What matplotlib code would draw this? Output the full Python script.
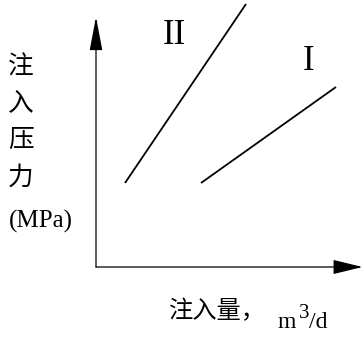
import matplotlib
matplotlib.use("Agg")
import matplotlib.pyplot as plt

# Schematic data (arbitrary units, origin at axis corner)
series_names = ["II", "I"]
line_II_x = [29, 150]
line_II_y = [84, 263]
line_I_x = [105, 240]
line_I_y = [84, 180]

y_label_chars = ["注", "入", "压", "力"]
y_label_unit = "(MPa)"
x_label_text = "注入量，"

serif = ["Liberation Serif", "DejaVu Serif"]
cjk = ["Noto Sans CJK SC", "DejaVu Sans"]

fig = plt.figure(figsize=(3.63, 3.37), dpi=100)
ax = fig.add_axes([0, 0, 1, 1])
ax.set_xlim(-96, 267)
ax.set_ylim(-70, 267)
ax.axis("off")

# axes with arrows
ax.annotate("", xy=(0, 250), xytext=(0, 0),
            arrowprops=dict(arrowstyle="-|>,head_length=2.1,head_width=0.4",
                            mutation_scale=10, lw=0.9, color="black",
                            shrinkA=0, shrinkB=0))
ax.annotate("", xy=(266.5, 0), xytext=(0, 0),
            arrowprops=dict(arrowstyle="-|>,head_length=1.85,head_width=0.45",
                            mutation_scale=10, lw=0.9, color="black",
                            shrinkA=0, shrinkB=0))

ax.plot(line_II_x, line_II_y, color="black", lw=1.3, solid_capstyle="butt")
ax.plot(line_I_x, line_I_y, color="black", lw=1.3, solid_capstyle="butt")

ax.text(78, 232, series_names[0], family=serif, fontsize=25, ha="center", va="center")
ax.text(213, 206, series_names[1], family=serif, fontsize=25, ha="center", va="center")

# y label (vertical stack)
ys = [199, 164, 127, 89]
for ch, yy in zip(y_label_chars, ys):
    ax.text(-75, yy, ch, family=cjk, fontsize=18.5, ha="center", va="center")
ax.text(-55, 46, y_label_unit, family=serif, fontsize=18, ha="center", va="center")

# x label
ax.text(121, -44, x_label_text, family=cjk, fontsize=17.5, ha="center", va="center")
ax.text(182, -61, "m", family=serif, fontsize=17, ha="left", va="baseline")
ax.text(203, -51, "3", family=serif, fontsize=15, ha="left", va="baseline")
ax.text(213, -61, "/d", family=serif, fontsize=17, ha="left", va="baseline")

fig.savefig("out.png", dpi=100)
